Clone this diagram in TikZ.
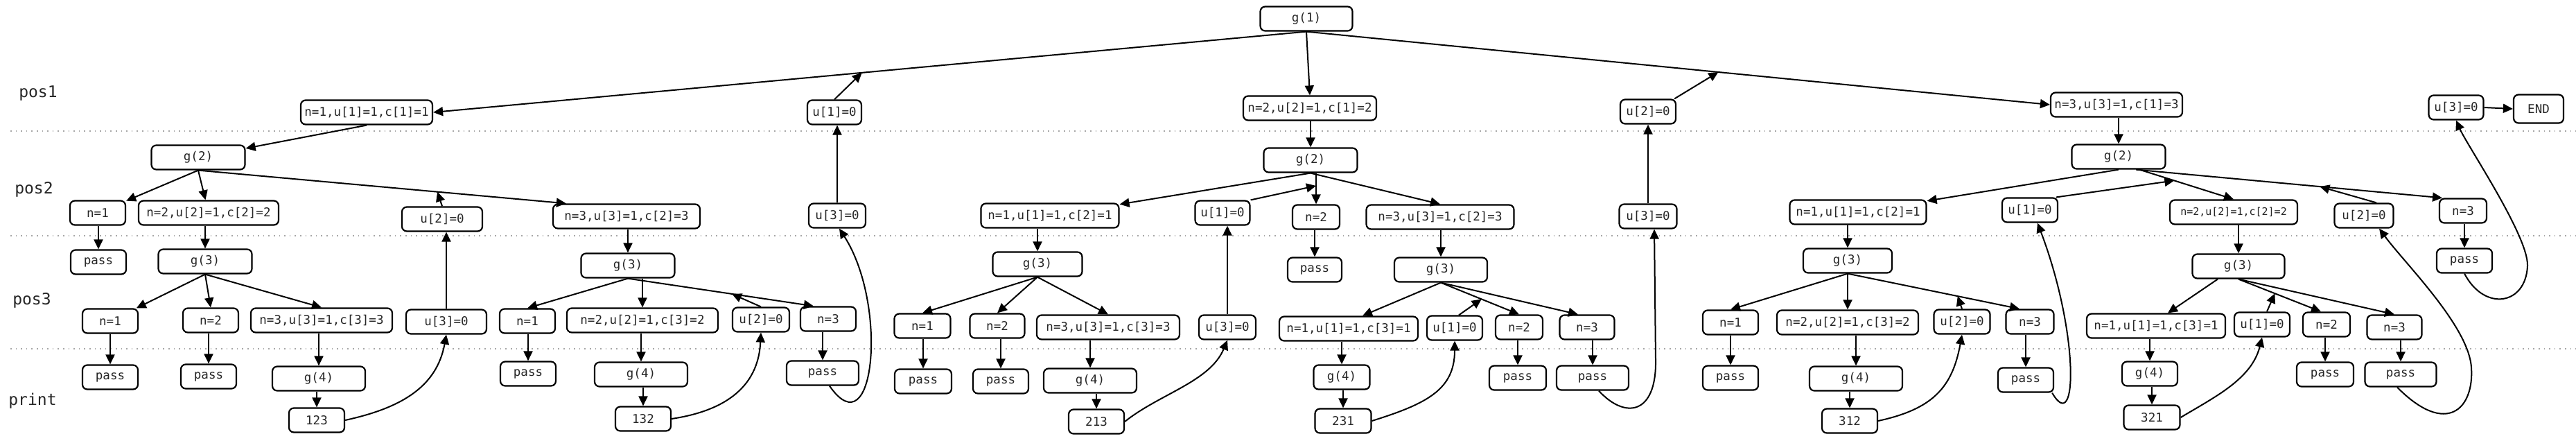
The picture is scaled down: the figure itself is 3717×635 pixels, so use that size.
\documentclass[tikz,border=0pt]{standalone}
\usepackage{fontspec}
\setmonofont{DejaVu Sans Mono}
\usetikzlibrary{arrows.meta,calc}
\newcommand{\nodefont}{\ttfamily\fontsize{17.5}{20}\selectfont}
\newcommand{\smallnodefont}{\ttfamily\fontsize{15}{18}\selectfont}
\newcommand{\lblfont}{\ttfamily\fontsize{23}{26}\selectfont}
\tikzset{
  bx/.style={draw, line width=2.2pt, rounded corners=7pt, inner sep=0pt, minimum height=35pt, font=\nodefont, text=black!85},
  ar/.style={line width=2pt, -{Triangle[length=14pt,width=13pt]}},
  lbl/.style={font=\lblfont, inner sep=0pt, text=black!85},
  sep/.style={black!35, line width=1.6pt, dash pattern=on 1.6pt off 6pt},
}
\newcommand{\mynode}[5]{\node[bx, minimum width=#4pt] (#1) at (#2,#3) {#5};}
\newcommand{\vd}[2]{\draw[ar] (#1.south -| #2.north) -- (#2.north);}
\begin{document}
\begin{tikzpicture}[x=1pt,y=-1pt]
\useasboundingbox (0,0) rectangle (3717,635);
\fill[white] (0,0) rectangle (3717,635);
% separators
\draw[sep] (15,189) -- (3717,189);
\draw[sep] (15,340) -- (3717,340);
\draw[sep] (15,503) -- (3717,503);
% labels
\node[lbl] (L1) at (55,135) {pos1};
\node[lbl] (L2) at (49,273) {pos2};
\node[lbl] (L3) at (46,433) {pos3};
\node[lbl] (L4) at (47,578) {print};
% top and pos1
\mynode{g1}{1885}{27}{133}{g(1)}
\mynode{A1}{529}{162}{190}{n=1,u[1]=1,c[1]=1}
\mynode{Au1}{1204}{162}{78}{u[1]=0}
\mynode{B1}{1890}{156}{192}{n=2,u[2]=1,c[1]=2}
\mynode{Bu2}{2378}{161}{80}{u[2]=0}
\mynode{C1}{3054}{151}{190}{n=3,u[3]=1,c[1]=3}
\mynode{Cu3}{3544}{155}{79}{u[3]=0}
\node[bx, minimum width=72pt, minimum height=41pt] (END) at (3663,157) {END};
% pos2
\mynode{A2}{286}{227}{135}{g(2)}
\mynode{A2a}{141}{307}{80}{n=1}
\mynode{A2b}{301}{307}{202}{n=2,u[2]=1,c[2]=2}
\mynode{A2u}{638}{316}{116}{u[2]=0}
\mynode{A2c}{904}{312}{212}{n=3,u[3]=1,c[2]=3}
\mynode{A2v}{1208}{311}{82}{u[3]=0}
\mynode{B2}{1891}{231}{135}{g(2)}
\mynode{B2a}{1515}{311}{199}{n=1,u[1]=1,c[2]=1}
\mynode{B2u}{1764}{307}{79}{u[1]=0}
\mynode{B2b}{1899}{313}{68}{n=2}
\mynode{B2c}{2078}{313}{213}{n=3,u[3]=1,c[2]=3}
\mynode{B2v}{2378}{312}{83}{u[3]=0}
\mynode{C2}{3057}{226}{135}{g(2)}
\mynode{C2a}{2681}{306}{197}{n=1,u[1]=1,c[2]=1}
\mynode{C2u}{2929}{303}{80}{u[1]=0}
\node[bx, minimum width=184pt, font=\smallnodefont] (C2b) at (3223,306) {n=2,u[2]=1,c[2]=2};
\mynode{C2w}{3411}{311}{85}{u[2]=0}
\mynode{C2c}{3554}{304}{68}{n=3}
% pos3
\mynode{Ap}{142}{378}{80}{pass}
\mynode{A3}{296}{377}{135}{g(3)}
\mynode{A3a}{159}{463}{80}{n=1}
\mynode{A3b}{304}{462}{80}{n=2}
\mynode{A3c}{464}{462}{204}{n=3,u[3]=1,c[3]=3}
\mynode{A3u}{644}{464}{116}{u[3]=0}
\mynode{D3}{906}{383}{135}{g(3)}
\mynode{D3a}{761}{463}{80}{n=1}
\mynode{D3b}{927}{462}{218}{n=2,u[2]=1,c[3]=2}
\mynode{D3u}{1098}{461}{82}{u[2]=0}
\mynode{D3c}{1195}{460}{80}{n=3}
\mynode{Bp}{1897}{389}{78}{pass}
\mynode{E3}{1497}{381}{129}{g(3)}
\mynode{E3a}{1331}{470}{81}{n=1}
\mynode{E3b}{1439}{470}{79}{n=2}
\mynode{E3c}{1599}{472}{206}{n=3,u[3]=1,c[3]=3}
\mynode{E3u}{1771}{472}{82}{u[3]=0}
\mynode{B3}{2079}{389}{134}{g(3)}
\mynode{B3a}{1946}{474}{200}{n=1,u[1]=1,c[3]=1}
\mynode{B3u}{2099}{473}{80}{u[1]=0}
\mynode{B3b}{2192}{472}{68}{n=2}
\mynode{B3c}{2290}{472}{79}{n=3}
\mynode{C3}{2666}{376}{128}{g(3)}
\mynode{C3a}{2497}{465}{80}{n=1}
\mynode{C3b}{2666}{465}{204}{n=2,u[2]=1,c[3]=2}
\mynode{C3u}{2831}{464}{81}{u[2]=0}
\mynode{C3c}{2929}{464}{69}{n=3}
\mynode{Cp}{3556}{376}{80}{pass}
\mynode{F3}{3230}{384}{133}{g(3)}
\mynode{F3a}{3111}{470}{200}{n=1,u[1]=1,c[3]=1}
\mynode{F3u}{3264}{468}{80}{u[1]=0}
\mynode{F3b}{3357}{468}{68}{n=2}
\mynode{F3c}{3455}{472}{79}{n=3}
% print
\mynode{A3ap}{159}{544}{80}{pass}
\mynode{A3bp}{301}{543}{80}{pass}
\mynode{A4}{460}{546}{134}{g(4)}
\mynode{A5}{457}{606}{80}{123}
\mynode{D3ap}{762}{539}{80}{pass}
\mynode{D4}{925}{540}{134}{g(4)}
\mynode{D5}{928}{604}{80}{132}
\mynode{D3cp}{1187}{538}{104}{pass}
\mynode{E3ap}{1332}{550}{82}{pass}
\mynode{E3bp}{1444}{550}{80}{pass}
\mynode{E4}{1573}{549}{134}{g(4)}
\mynode{E5}{1582}{608}{80}{213}
\mynode{B4}{1936}{544}{81}{g(4)}
\mynode{B5}{1938}{607}{81}{231}
\mynode{B3bp}{2190}{545}{82}{pass}
\mynode{B3cp}{2298}{545}{104}{pass}
\mynode{C3ap}{2497}{545}{80}{pass}
\mynode{C4}{2678}{546}{134}{g(4)}
\mynode{C5}{2669}{607}{80}{312}
\mynode{C3cp}{2923}{548}{80}{pass}
\mynode{F4}{3102}{539}{80}{g(4)}
\mynode{F5}{3105}{602}{81}{321}
\mynode{F3bp}{3355}{540}{82}{pass}
\mynode{F3cp}{3464}{540}{103}{pass}
% ---- edges: top
\draw[ar] (g1.south) -- (A1.east);
\draw[ar] (g1.south) -- (B1.north);
\draw[ar] (g1.south) -- (C1.west);
\draw[ar] (Au1.north) -- ($(g1.south)!0.509!(A1.east)$);
\draw[ar] ([xshift=-3pt]Bu2.north east) -- ($(g1.south)!0.554!(C1.west)$);
\draw[ar] (Cu3.east) -- (END.west);
% ---- subtree A
\draw[ar] (A1.south) -- (A2);
\draw[ar] (A2.south) -- (A2a);
\draw[ar] (A2.south) -- (A2b);
\draw[ar] (A2.south) -- ([xshift=20pt]A2c.north west);
\draw[ar] (A2u.north) -- ($(A2.south)!0.65!([xshift=20pt]A2c.north west)$);
\vd{A2a}{Ap}
\vd{A2b}{A3}
\vd{A2c}{D3}
\draw[ar] (A3.south) -- (A3a);
\draw[ar] (A3.south) -- (A3b.north);
\draw[ar] (A3.south) -- (A3c.north);
\draw[ar] (A3u.north) -- (A3u.north |- A2u.south);
\vd{A3a}{A3ap}
\vd{A3b}{A3bp}
\vd{A3c}{A4}
\vd{A4}{A5}
\draw[ar] (A5.east) .. controls +(78,-17) and +(-14,77) .. (A3u.south);
\draw[ar] (D3.south) -- (D3a.north);
\vd{D3}{D3b}
\draw[ar] (D3.south) -- ([xshift=20pt]D3c.north west);
\draw[ar] (D3u.north) -- ($(D3.south)!0.56!([xshift=20pt]D3c.north west)$);
\vd{D3a}{D3ap}
\vd{D3b}{D4}
\vd{D4}{D5}
\vd{D3c}{D3cp}
\draw[ar] (D5.east) .. controls +(100,-15) and +(-3,60) .. (D3u.south);
\draw[ar] ([xshift=10pt]D3cp.south) .. controls (1262,650) and (1282,440) .. ([xshift=3pt]A2v.south);
\draw[ar] (A2v.north) -- (A2v.north |- Au1.south);
% ---- subtree B
\vd{B1}{B2}
\draw[ar] (B2.south) -- (B2a);
\vd{B2}{B2b}
\draw[ar] (B2.south) -- (B2c.north);
\draw[ar] (B2u.north east) -- ($(B2.south -| B2b.north)!0.41!(B2b.north)$);
\vd{B2a}{E3}
\vd{B2b}{Bp}
\vd{B2c}{B3}
\draw[ar] (E3.south) -- (E3a.north);
\draw[ar] (E3.south) -- (E3b.north);
\draw[ar] (E3.south) -- (E3c.north);
\draw[ar] (E3u.north) -- (E3u.north |- B2u.south);
\vd{E3a}{E3ap}
\vd{E3b}{E3bp}
\vd{E3c}{E4}
\vd{E4}{E5}
\draw[ar] (E5.east) .. controls +(50,-40) and +(-25,60) .. (E3u.south);
\draw[ar] (B3.south) -- ([xshift=20pt]B3a.north);
\draw[ar] (B3.south) -- (B3b.north);
\draw[ar] (B3.south) -- ([xshift=-13pt]B3c.north);
\draw[ar] ([xshift=6pt]B3u.north) -- ($(B3.south)!0.52!(B3b.north)$);
\vd{B3a}{B4}
\vd{B4}{B5}
\vd{B3b}{B3bp}
\vd{B3c}{B3cp}
\draw[ar] (B5.east) .. controls +(80,-25) and +(0,70) .. (B3u.south);
\draw[ar] ([xshift=9pt]B3cp.south) .. controls (2345,605) and (2390,598) .. (2389,520) -- ([xshift=9pt]B2v.south);
\draw[ar] (B2v.north) -- (Bu2.south);
% ---- subtree C
\vd{C1}{C2}
\draw[ar] (C2.south) -- (C2a);
\draw[ar] ([xshift=30pt]C2.south) -- (C2b.north);
\draw[ar] ([xshift=25pt]C2.south) -- ([xshift=-30pt]C2c.north);
\draw[ar] ([xshift=-3pt]C2u.north east) -- ($([xshift=30pt]C2.south)!0.37!(C2b.north)$);
\draw[ar] ([xshift=18pt]C2w.north) -- ($([xshift=25pt]C2.south)!0.60!([xshift=-30pt]C2c.north)$);
\vd{C2a}{C3}
\vd{C2b}{F3}
\vd{C2c}{Cp}
\draw[ar] (C3.south) -- (C3a.north);
\vd{C3}{C3b}
\draw[ar] (C3.south) -- ([xshift=-15pt]C3c.north);
\draw[ar] (C3u.north) -- ($(C3.south)!0.64!([xshift=-15pt]C3c.north)$);
\vd{C3a}{C3ap}
\vd{C3b}{C4}
\vd{C4}{C5}
\vd{C3c}{C3cp}
\draw[ar] (C5.east) .. controls +(78,-17) and +(-14,77) .. (C3u.south);
\draw[ar] ([xshift=-3pt]C3cp.south east) .. controls (2998,630) and (3000,480) .. ([xshift=11pt]C2u.south);
\draw[ar] ([xshift=-30pt]F3.south) -- ([xshift=17pt]F3a.north);
\draw[ar] (F3.south) -- ([xshift=-8pt]F3b.north);
\draw[ar] (F3.south) -- (F3c.north);
\draw[ar] ([xshift=7pt]F3u.north) -- ($(F3.south)!0.44!([xshift=-8pt]F3b.north)$);
\vd{F3a}{F4}
\vd{F4}{F5}
\vd{F3b}{F3bp}
\vd{F3c}{F3cp}
\draw[ar] (F5.east) .. controls +(50,-30) and +(-15,60) .. (F3u.south);
\draw[ar] ([xshift=-5pt]F3cp.south) .. controls (3530,630) and (3570,590) .. (3566,530) .. controls (3562,470) and (3470,380) .. ([xshift=22pt]C2w.south);
\draw[ar] (Cp.south) .. controls (3585,450) and (3645,440) .. (3647,383) .. controls (3648,340) and (3560,210) .. (Cu3.south);
\end{tikzpicture}
\end{document}
